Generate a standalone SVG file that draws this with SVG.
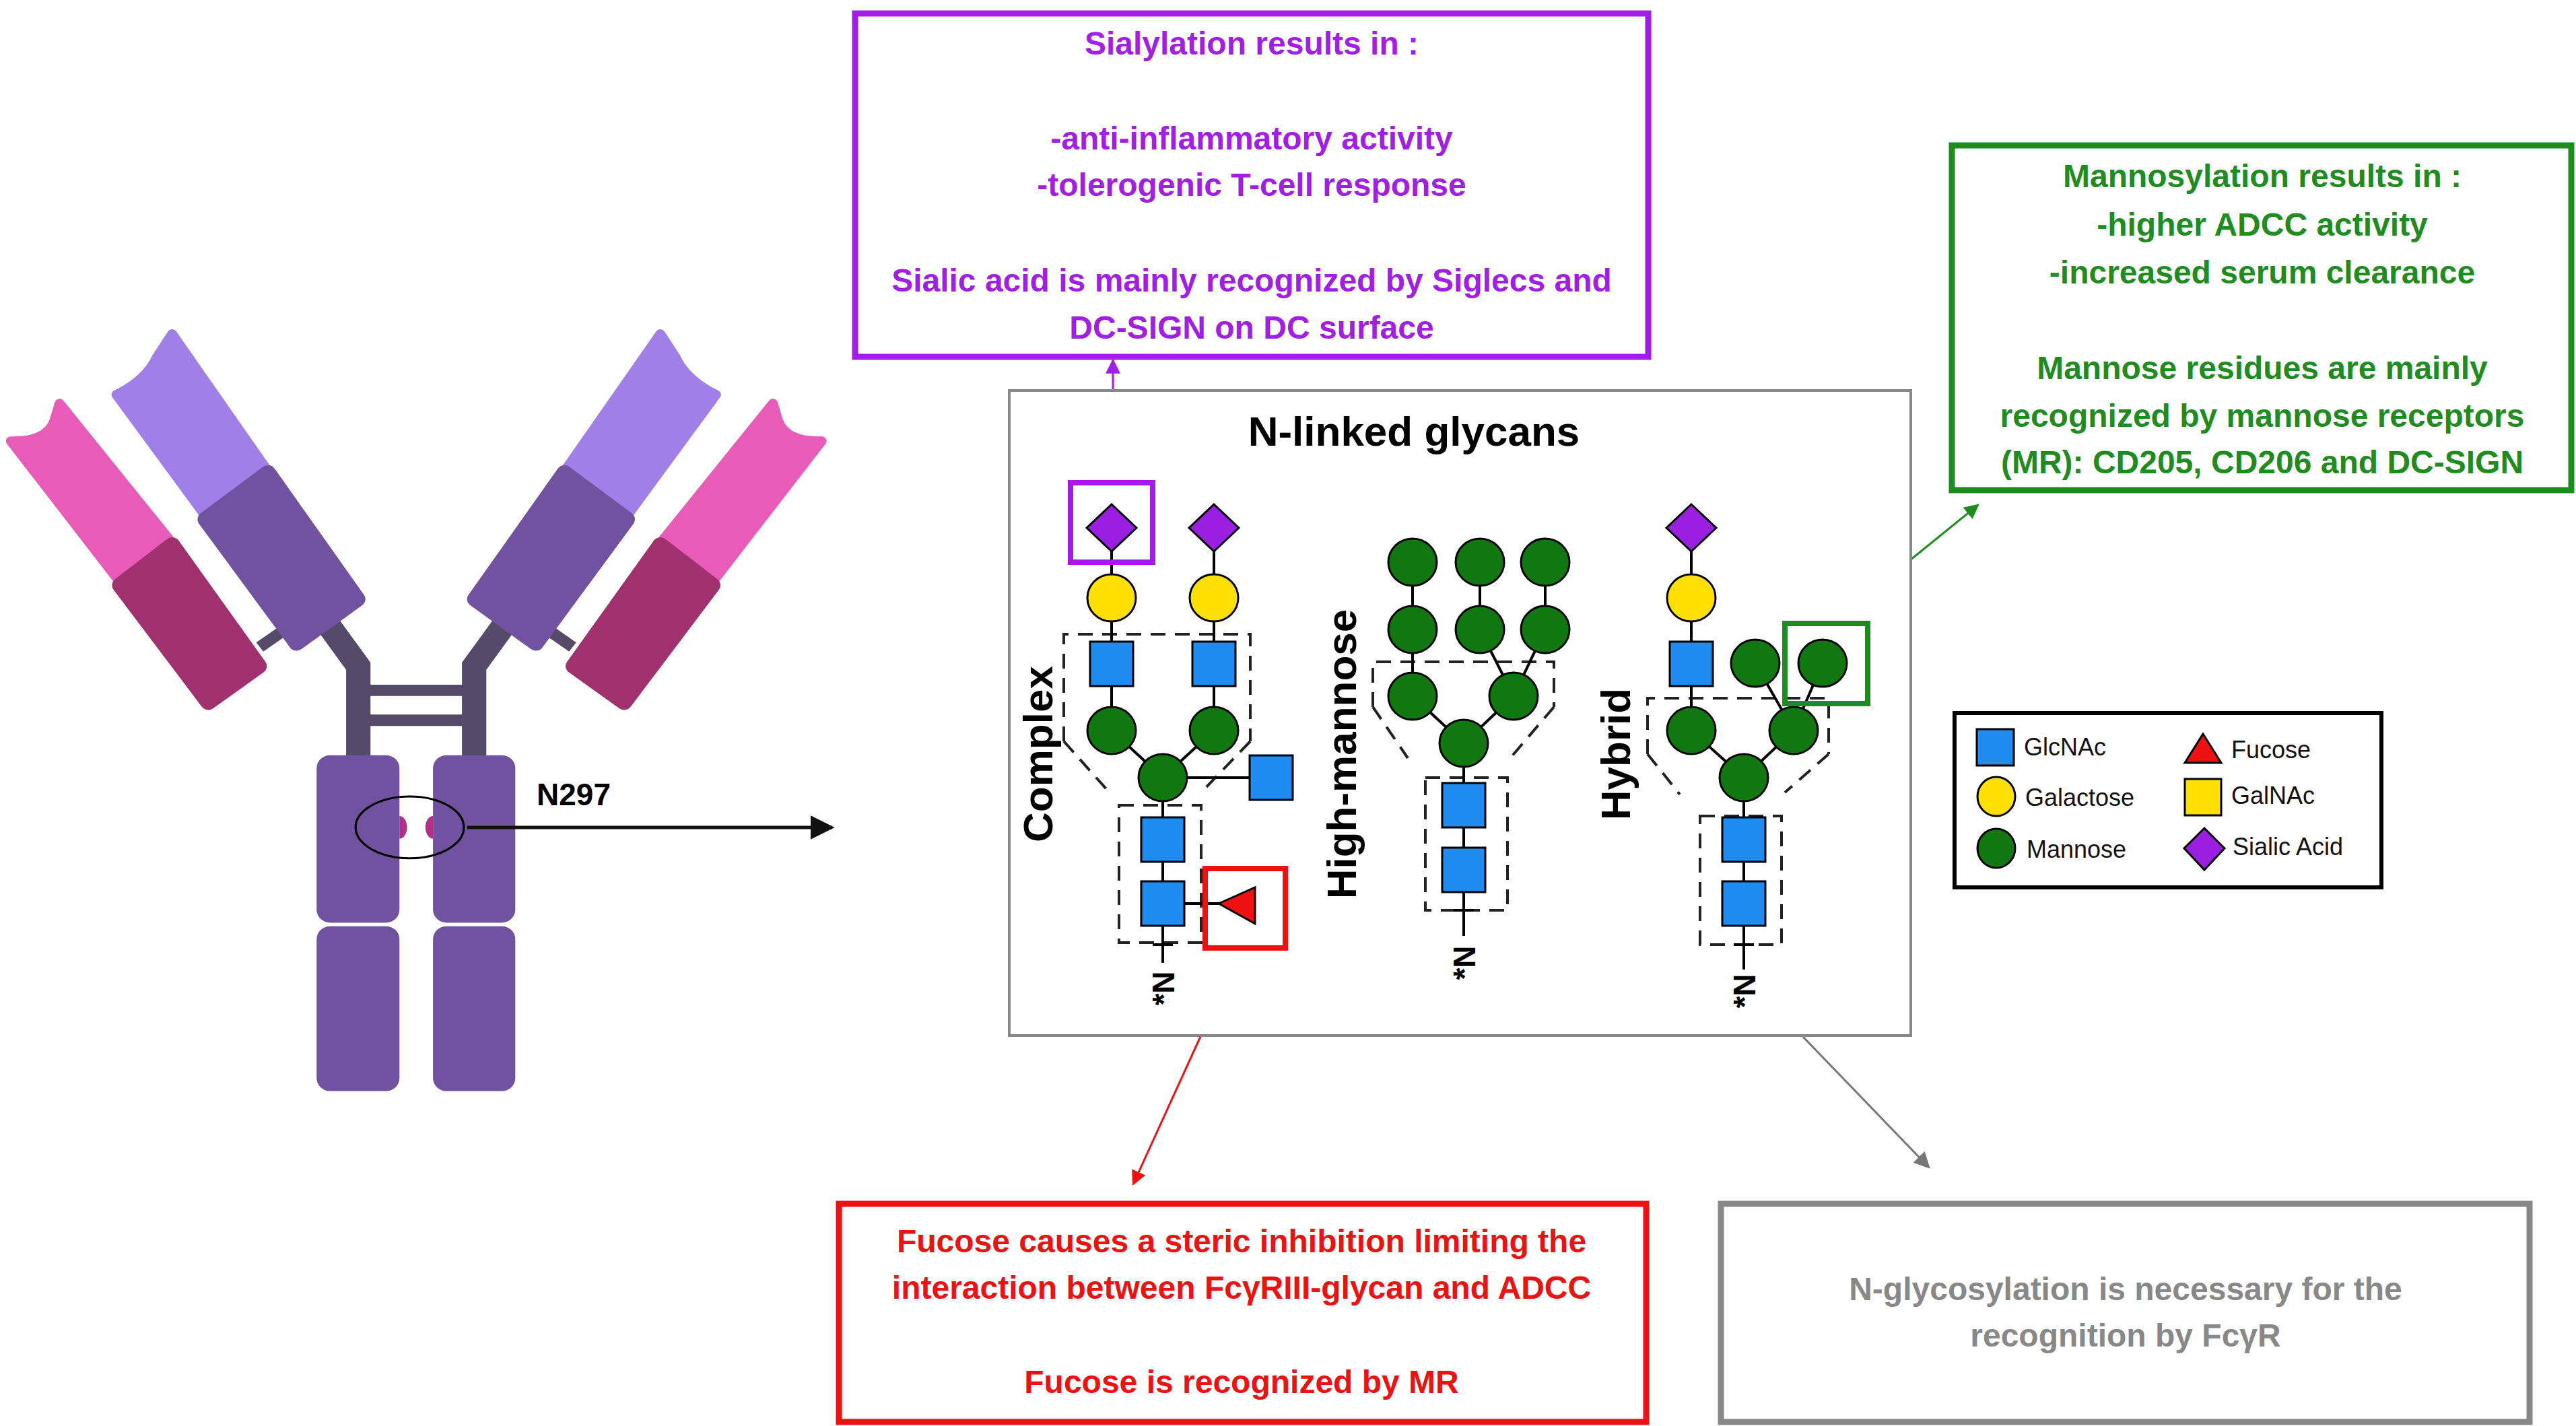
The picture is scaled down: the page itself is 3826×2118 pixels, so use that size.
<svg xmlns="http://www.w3.org/2000/svg" width="3826" height="2118" viewBox="0 0 3826 2118">
<style>
.b{font-family:"Liberation Sans",Arial,sans-serif;font-weight:bold;text-anchor:middle}
.pu{fill:#A21EE6;font-size:48px}
.gr{fill:#1E8C1E;font-size:48px}
.rd{fill:#EE1111;font-size:48px}
.gy{fill:#888;font-size:48px}
.lab{font-size:62px;fill:#000}
.nt{font-size:46px;fill:#000}
.lg{font-family:"Liberation Sans",Arial,sans-serif;font-size:36px;fill:#111}
.sq{fill:#1E8CF0;stroke:#000;stroke-width:3}
.gc{fill:#117711;stroke:#000;stroke-width:3}
.yc{fill:#FFE000;stroke:#000;stroke-width:3}
.dm{fill:#9B1FE0;stroke:#000;stroke-width:3}
.ln{stroke:#000;stroke-width:4;fill:none}
.ds{stroke:#222;stroke-width:4;fill:none;stroke-dasharray:22 14}
</style>
<defs>
<marker id="ap" viewBox="0 0 10 10" refX="9" refY="5" markerWidth="22" markerHeight="22" orient="auto" markerUnits="userSpaceOnUse"><path d="M0,0L10,5L0,10z" fill="#A21EE6"/></marker>
<marker id="ag" viewBox="0 0 10 10" refX="9" refY="5" markerWidth="22" markerHeight="22" orient="auto" markerUnits="userSpaceOnUse"><path d="M0,0L10,5L0,10z" fill="#1E8C1E"/></marker>
<marker id="ar" viewBox="0 0 10 10" refX="9" refY="5" markerWidth="22" markerHeight="22" orient="auto" markerUnits="userSpaceOnUse"><path d="M0,0L10,5L0,10z" fill="#EE1111"/></marker>
<marker id="ay" viewBox="0 0 10 10" refX="9" refY="5" markerWidth="24" markerHeight="24" orient="auto" markerUnits="userSpaceOnUse"><path d="M0,0L10,5L0,10z" fill="#777"/></marker>
<marker id="ab" viewBox="0 0 10 10" refX="9" refY="5" markerWidth="36" markerHeight="36" orient="auto" markerUnits="userSpaceOnUse"><path d="M0,0L10,5L0,10z" fill="#111"/></marker>
<g id="arm">
<line x1="480" y1="668" x2="518" y2="640" stroke="#554A6A" stroke-width="22"/>
<path d="M610,630 L662,705 L662,880" stroke="#554A6A" stroke-width="45" fill="none"/>
<path d="M215,178 Q270,150 290,105 L318,60 L492,322 L377,410 Z" fill="#A080E8" stroke="#A080E8" stroke-width="18" stroke-linejoin="round"/>
<polygon points="380,420 495,330 660,575 548,660" fill="#7052A0" stroke="#7052A0" stroke-width="30" stroke-linejoin="round"/>
<path d="M20,268 Q85,270 100,230 L110,195 L315,462 L220,540 Z" fill="#E85CB8" stroke="#E85CB8" stroke-width="18" stroke-linejoin="round"/>
<polygon points="222,548 318,470 478,705 385,775" fill="#A0306E" stroke="#A0306E" stroke-width="30" stroke-linejoin="round"/>
</g>
</defs>
<rect width="3826" height="2118" fill="#fff"/>

<g id="antibody" transform="translate(0,450) scale(0.8039,0.7651)">
<use href="#arm"/>
<use href="#arm" transform="translate(1538,0) scale(-1,1)"/>
<line x1="670" y1="752" x2="870" y2="752" stroke="#554A6A" stroke-width="22"/>
<line x1="670" y1="810" x2="870" y2="810" stroke="#554A6A" stroke-width="22"/>
<rect x="585" y="878" width="153" height="325" rx="25" fill="#7052A0"/>
<rect x="800" y="878" width="152" height="325" rx="25" fill="#7052A0"/>
<rect x="585" y="1210" width="153" height="320" rx="25" fill="#7052A0"/>
<rect x="800" y="1210" width="152" height="320" rx="25" fill="#7052A0"/>
<path d="M738,996 a14,22 0 0 1 0,44 z" fill="#B0308A"/>
<path d="M800,996 a14,22 0 0 0 0,44 z" fill="#B0308A"/>
<ellipse cx="757" cy="1018" rx="100" ry="60" fill="none" stroke="#000" stroke-width="4"/>
</g>
<text class="b nt" x="797" y="1196" style="text-anchor:start">N297</text>

<g id="connectors">
<line x1="694" y1="1229" x2="1236" y2="1229" stroke="#111" stroke-width="5" marker-end="url(#ab)"/>
<line x1="1653" y1="677" x2="1653" y2="535" stroke="#A21EE6" stroke-width="3" marker-end="url(#ap)"/>
<line x1="2774" y1="883" x2="2938" y2="750" stroke="#1E8C1E" stroke-width="3" marker-end="url(#ag)"/>
<line x1="1843" y1="1408" x2="1683" y2="1759" stroke="#EE1111" stroke-width="3" marker-end="url(#ar)"/>
<line x1="2678" y1="1540" x2="2865" y2="1734" stroke="#777" stroke-width="3" marker-end="url(#ay)"/>
</g>

<g id="sialylation">
<rect x="1270" y="20" width="1178" height="510" fill="none" stroke="#A21EE6" stroke-width="9"/>
<text class="b pu" x="1859" y="81">Sialylation results in :</text>
<text class="b pu" x="1859" y="222">-anti-inflammatory activity</text>
<text class="b pu" x="1859" y="291">-tolerogenic T-cell response</text>
<text class="b pu" x="1859" y="433">Sialic acid is mainly recognized by Siglecs and</text>
<text class="b pu" x="1859" y="503">DC-SIGN on DC surface</text>
</g>

<g id="mannosylation">
<rect x="2899" y="216" width="920" height="512" fill="none" stroke="#1E8C1E" stroke-width="9"/>
<text class="b gr" x="3360" y="278">Mannosylation results in :</text>
<text class="b gr" x="3360" y="350">-higher ADCC activity</text>
<text class="b gr" x="3360" y="421">-increased serum clearance</text>
<text class="b gr" x="3360" y="563">Mannose residues are mainly</text>
<text class="b gr" x="3360" y="634">recognized by mannose receptors</text>
<text class="b gr" x="3360" y="703">(MR): CD205, CD206 and DC-SIGN</text>
</g>

<g id="fucose">
<rect x="1246" y="1788" width="1199" height="324" fill="none" stroke="#EE1111" stroke-width="9"/>
<text class="b rd" x="1844" y="1860">Fucose causes a steric inhibition  limiting the</text>
<text class="b rd" x="1844" y="1929">interaction between FcγRIII-glycan and ADCC</text>
<text class="b rd" x="1844" y="2069">Fucose is recognized by MR</text>
</g>

<g id="nglyco">
<rect x="2556" y="1788" width="1201" height="324" fill="none" stroke="#888" stroke-width="9"/>
<text class="b gy" x="3157" y="1931">N-glycosylation is necessary for the</text>
<text class="b gy" x="3157" y="2000">recognition by FcγR</text>
</g>

<g id="glycans">
<rect x="1499" y="580" width="1339" height="958" fill="#fff" stroke="#888" stroke-width="4"/>
<text class="b lab" x="2100" y="662">N-linked glycans</text>

<g id="complex">
<path class="ds" d="M1580,1101 V942 H1857 V1101 M1580,1101 L1645,1174 M1857,1101 L1784,1177"/>
<rect class="ds" x="1662" y="1196" width="122" height="204"/>
<path class="ln" d="M1651,784 V1085 L1727,1155 L1803,1085 V784 M1727,1155 V1342 V1430 M1727,1155 H1888 M1727,1342 H1836 M1712,1403 H1742"/>
<polygon class="dm" points="1651,749 1688,784 1651,819 1614,784"/>
<polygon class="dm" points="1803,749 1840,784 1803,819 1766,784"/>
<ellipse class="yc" cx="1651" cy="888" rx="36" ry="35"/>
<ellipse class="yc" cx="1803" cy="888" rx="36" ry="35"/>
<rect class="sq" x="1619" y="953" width="64" height="66"/>
<rect class="sq" x="1771" y="953" width="64" height="66"/>
<ellipse class="gc" cx="1651" cy="1085" rx="36" ry="35"/>
<ellipse class="gc" cx="1803" cy="1085" rx="36" ry="35"/>
<ellipse class="gc" cx="1727" cy="1155" rx="36" ry="35"/>
<rect class="sq" x="1856" y="1122" width="64" height="66"/>
<rect class="sq" x="1695" y="1214" width="64" height="66"/>
<rect class="sq" x="1695" y="1309" width="64" height="66"/>
<polygon points="1810,1342 1864,1318 1864,1372" fill="#EE1111" stroke="#000" stroke-width="3"/>
<rect x="1590" y="717" width="122" height="118" fill="none" stroke="#A21EE6" stroke-width="8"/>
<rect x="1790" y="1290" width="119" height="118" fill="none" stroke="#EE1111" stroke-width="8"/>
<text class="b nt" transform="translate(1744,1468) rotate(-90)">*N</text>
<text class="b lab" transform="translate(1563,1120) rotate(-90)">Complex</text>
</g>

<g id="highmannose">
<path class="ds" d="M2039,1050 V983 H2308 V1050 M2039,1050 L2091,1126 M2308,1050 L2243,1126"/>
<rect class="ds" x="2117" y="1155" width="122" height="197"/>
<path class="ln" d="M2098,835 V1034 L2174,1104 L2248,1034 L2198,935 V835 M2248,1034 L2295,935 V835 M2174,1104 V1390 M2159,1352 H2189"/>
<ellipse class="gc" cx="2098" cy="835" rx="36" ry="35"/>
<ellipse class="gc" cx="2198" cy="835" rx="36" ry="35"/>
<ellipse class="gc" cx="2295" cy="835" rx="36" ry="35"/>
<ellipse class="gc" cx="2098" cy="935" rx="36" ry="35"/>
<ellipse class="gc" cx="2198" cy="935" rx="36" ry="35"/>
<ellipse class="gc" cx="2295" cy="935" rx="36" ry="35"/>
<ellipse class="gc" cx="2098" cy="1034" rx="36" ry="35"/>
<ellipse class="gc" cx="2248" cy="1034" rx="36" ry="35"/>
<ellipse class="gc" cx="2174" cy="1104" rx="36" ry="35"/>
<rect class="sq" x="2142" y="1163" width="64" height="66"/>
<rect class="sq" x="2142" y="1259" width="64" height="66"/>
<text class="b nt" transform="translate(2191,1430) rotate(-90)">*N</text>
<text class="b lab" transform="translate(2014,1120) rotate(-90)">High-mannose</text>
</g>

<g id="hybrid">
<path class="ds" d="M2447,1120 V1037 H2716 V1120 M2447,1120 L2495,1180 M2716,1120 L2651,1177"/>
<rect class="ds" x="2525" y="1212" width="121" height="191"/>
<path class="ln" d="M2512,784 V1085 L2590,1155 L2664,1085 L2607,985 M2664,1085 L2707,985 M2590,1155 V1440 M2575,1403 H2605"/>
<polygon class="dm" points="2512,749 2549,784 2512,819 2475,784"/>
<ellipse class="yc" cx="2512" cy="888" rx="36" ry="35"/>
<rect class="sq" x="2480" y="953" width="64" height="66"/>
<ellipse class="gc" cx="2607" cy="985" rx="36" ry="35"/>
<ellipse class="gc" cx="2707" cy="985" rx="36" ry="35"/>
<ellipse class="gc" cx="2512" cy="1085" rx="36" ry="35"/>
<ellipse class="gc" cx="2664" cy="1085" rx="36" ry="35"/>
<ellipse class="gc" cx="2590" cy="1155" rx="36" ry="35"/>
<rect class="sq" x="2558" y="1214" width="64" height="66"/>
<rect class="sq" x="2558" y="1309" width="64" height="66"/>
<rect x="2651" y="926" width="123" height="119" fill="none" stroke="#1E8C1E" stroke-width="8"/>
<text class="b nt" transform="translate(2607,1472) rotate(-90)">*N</text>
<text class="b lab" transform="translate(2421,1120) rotate(-90)">Hybrid</text>
</g>
</g>

<g id="legend">
<rect x="2903" y="1059" width="634" height="259" fill="#fff" stroke="#000" stroke-width="6"/>
<rect class="sq" x="2936" y="1083" width="55" height="54"/>
<text class="lg" x="3006" y="1122">GlcNAc</text>
<polygon points="3272,1090 3299,1133 3245,1133" fill="#EE1111" stroke="#000" stroke-width="3"/>
<text class="lg" x="3314" y="1126">Fucose</text>
<ellipse class="yc" cx="2965" cy="1183" rx="28" ry="29"/>
<text class="lg" x="3008" y="1197">Galactose</text>
<rect class="sq" x="3245" y="1157" width="54" height="54" style="fill:#FFE000"/>
<text class="lg" x="3314" y="1194">GalNAc</text>
<ellipse class="gc" cx="2965" cy="1260" rx="28" ry="29"/>
<text class="lg" x="3010" y="1274">Mannose</text>
<polygon class="dm" points="3274,1230 3304,1260 3274,1292 3244,1260"/>
<text class="lg" x="3316" y="1270">Sialic Acid</text>
</g>
</svg>
